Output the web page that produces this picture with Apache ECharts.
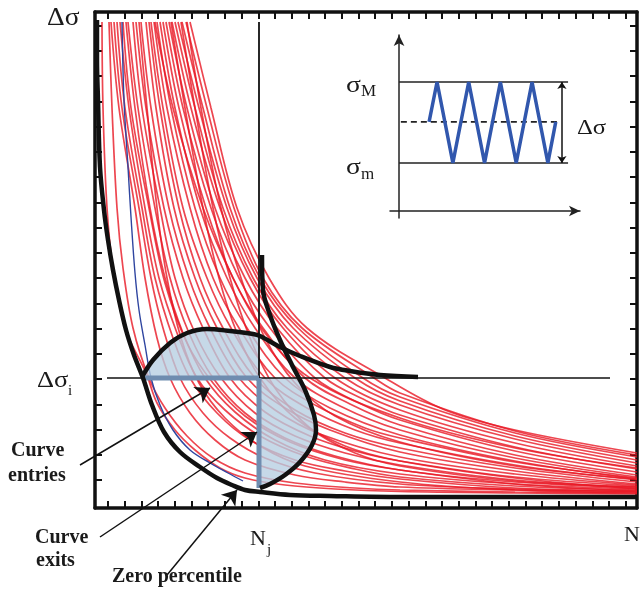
<!DOCTYPE html>
<html>
<head>
<meta charset="utf-8">
<script src="https://cdn.jsdelivr.net/npm/echarts@6.0.0/dist/echarts.min.js"></script>
<style>
  html, body { margin: 0; padding: 0; background: #fff; }
  #chart { width: 641px; height: 592px; }
</style>
</head>
<body>
<div id="chart"></div>
<script>
// schematic S-N field, units: x = N (0..542), y = delta sigma (0..496)

// scatter of S-N curves (red)
const redCurves = [
  [[7,486],[8,400],[12,300],[18,240],[30,180],[51,135],[62,105],[80,78],[100,58],[125,40],[150,30],[190,23],[240,19],[305,16.5],[420,15],[542,14]],
  [[14,486],[17,400],[22,300],[28,240],[38,180],[54,130],[70,100],[92,72],[118,50],[150,35],[200,25],[260,20],[305,18],[420,16],[542,15]],
  [[16,486],[24,400],[40,300],[50,230],[62,170],[75,130],[95,95],[120,68],[150,48],[200,33],[250,26],[305,21],[420,18],[542,16]],
  [[19,486],[27,400],[44,300],[56,230],[68,180],[85,130],[108,95],[135,70],[170,50],[220,35],[305,24],[420,19],[542,16.5]],
  [[22,486],[30,400],[47,300],[60,230],[78,170],[95,130],[122,95],[155,68],[200,48],[250,37],[305,29],[420,20],[542,17]],
  [[25,486],[34,400],[50,300],[64,230],[82,175],[102,130],[130,98],[165,72],[210,52],[260,39],[305,31],[420,22],[542,18]],
  [[31,486],[40,400],[55,300],[70,230],[88,175],[110,130],[140,96],[180,68],[230,48],[305,34],[420,24],[542,19]],
  [[33,486],[43,400],[60,300],[75,230],[94,175],[118,130],[150,95],[190,70],[240,52],[305,38],[420,26],[542,20]],
  [[38,486],[47,400],[65,300],[80,230],[100,175],[126,130],[160,95],[200,72],[250,55],[305,43],[420,28],[542,21]],
  [[41,486],[51,400],[69,300],[88,230],[108,180],[135,130],[170,96],[215,72],[260,57],[305,47],[420,31],[542,22]],
  [[46,486],[56,400],[74,300],[94,230],[115,180],[144,130],[180,98],[225,74],[305,51],[420,34],[542,23]],
  [[51,486],[61,400],[79,300],[100,230],[122,180],[152,130],[190,100],[235,78],[305,56],[420,37],[542,24]],
  [[54,486],[65,400],[84,300],[105,230],[128,180],[160,130],[200,98],[250,75],[305,60],[420,40],[542,26]],
  [[56,486],[68,400],[88,300],[112,230],[136,180],[170,130],[212,100],[260,78],[305,65],[420,43],[542,28]],
  [[59,486],[72,400],[95,300],[118,230],[144,180],[180,130],[222,102],[270,80],[305,70],[420,46],[542,30]],
  [[62,486],[76,400],[100,300],[125,230],[152,180],[190,130],[235,100],[305,73],[420,47],[542,29]],
  [[65,486],[80,400],[105,300],[132,230],[160,180],[200,130],[245,102],[305,78],[420,50],[542,31]],
  [[68,486],[84,400],[111,300],[138,230],[168,180],[210,130],[255,104],[305,83],[420,53],[542,33]],
  [[71,486],[88,400],[116,300],[144,230],[175,180],[220,130],[262,106],[305,88],[420,57],[542,36]],
  [[74,486],[92,400],[120,300],[150,230],[182,180],[230,130],[270,108],[305,93],[420,61],[542,39]],
  [[77,486],[96,400],[125,300],[155,230],[188,180],[240,130],[305,98],[420,65],[542,42]],
  [[80,486],[100,400],[128,300],[158,230],[192,180],[250,130],[305,103],[420,69],[542,45]],
  [[83,486],[104,400],[132,300],[162,230],[198,180],[260,130],[305,107],[420,72],[542,48]],
  [[87,486],[108,400],[135,300],[165,230],[203,180],[268,130],[305,111],[420,75],[542,51]],
  [[91,486],[112,400],[139,300],[168,230],[207,180],[279,130],[305,115],[420,77],[542,53]],
  [[95,486],[116,400],[142,300],[174,230],[212,180],[290,130],[350,98],[420,78],[542,55]],
  [[86,486],[100,400],[118,300],[135,230],[155,170],[180,120],[215,80],[260,55],[305,42],[420,27],[542,21]],
  [[76,486],[90,400],[108,300],[124,230],[142,175],[165,130],[200,90],[250,62],[305,47],[420,30],[542,19]],
  [[92,486],[106,400],[126,300],[146,230],[170,170],[200,125],[240,92],[305,66],[420,42],[542,29]],
  [[60,486],[78,400],[108,300],[138,230],[170,175],[215,130],[305,90],[420,60],[542,40]],
  [[44,486],[52,400],[62,300],[72,230],[86,170],[104,125],[130,90],[165,62],[210,42],[305,26],[420,18],[542,15]],
  [[28,486],[36,400],[54,300],[70,225],[92,165],[118,125],[150,92],[195,66],[250,48],[305,38],[420,24],[542,17]]
];

const blueCurve = [[27,486],[29,408],[33,341],[36,291],[40,235],[44,198],[50,163],[56,130],[65,103],[78,78],[95,58],[115,45],[133,35],[148,27]];

// zero percentile (lower envelope)
const zeroPercentile = [[2,488],[2,448],[3,408],[5,341],[9,298],[13,268],[18,238],[24,208],[31,178],[39,153],[48,130],[57,103],[69,76],[85,56],[105,41],[122,30],[137,23],[150,18],[165,16],[195,13],[235,12],[305,11],[542,11]];

// percentile loop
const upperBoundary = [[47,131],[58,148],[75,165],[92,175],[112,179],[135,177],[158,174],[165,172],[185,161],[205,152],[235,141],[255,137],[285,133],[323,131]];
const rightBoundary = [[167,253],[168,218],[175,193],[185,168],[197,143],[210,118],[219,93],[221,78],[217,63],[205,46],[190,33],[175,24],[165,20]];

const entriesArea = [[47,130],[47,131],[58,148],[75,165],[92,175],[112,179],[135,177],[158,174],[164,172.5],[164,130]];
const exitsArea = [[164,130],[204,130],[210,118],[219,93],[221,78],[217,63],[205,46],[190,33],[175,24],[165,20],[164,20]];

const levelI = 130;   // delta sigma i
const cycleJ = 164;   // N j

// inset (grid 2): units x -5..100, y -4..100
const sigmaMax = 73.3;
const sigmaMin = 27.3;
const sigmaMean = 50.6;
const wave = [[16.6,50.6],[21,73.3],[29.75,27.3],[38.5,73.3],[47.25,27.3],[56,73.3],[64.75,27.3],[73.5,73.3],[82.25,27.3],[86.6,50.6]];

// tick marks on the frame
const xTicks = [];
for (let k = 0; k < 32; k++) xTicks.push(13 + 16.7 * k);
const yTicks = [];
for (let k = 0; k < 19; k++) yTicks.push(28 + 25.25 * k);

const serif = '"Liberation Serif", "DejaVu Serif", serif';

function frameAxis(pos, ticks, max) {
  return {
    gridIndex: 0, type: 'value', min: 0, max: max, position: pos,
    axisLine: { onZero: false, lineStyle: { color: '#111', width: 3.5 } },
    axisTick: { show: true, inside: true, length: 7, customValues: ticks, lineStyle: { color: '#111', width: 2 } },
    axisLabel: { show: false },
    splitLine: { show: false }
  };
}

function insetAxis(min) {
  return {
    gridIndex: 1, type: 'value', min: min, max: 100,
    axisLine: { onZero: true, symbol: ['none', 'arrow'], symbolSize: [8, 11], lineStyle: { color: '#222', width: 1.5 } },
    axisTick: { show: false },
    axisLabel: { show: false },
    splitLine: { show: false }
  };
}

function curve(data, color, width, z, extra) {
  return Object.assign({
    type: 'line', xAxisIndex: 0, yAxisIndex: 0, data: data,
    showSymbol: false, symbol: 'none', smooth: 0.35,
    lineStyle: { color: color, width: width },
    z: z, silent: true, animation: false
  }, extra || {});
}

function area(points, z) {
  return {
    type: 'custom', xAxisIndex: 0, yAxisIndex: 0, data: [[0, 0]], z: z, silent: true,
    renderItem: function (params, api) {
      return {
        type: 'polygon',
        shape: { points: points.map(function (p) { return api.coord(p); }) },
        style: { fill: '#b6cee1', opacity: 0.78 }
      };
    }
  };
}

function arrow(from, to, grid, size, both) {
  return {
    type: 'lines', coordinateSystem: 'cartesian2d', xAxisIndex: grid, yAxisIndex: grid,
    clip: false, silent: true, z: 8,
    symbol: both ? ['arrow', 'arrow'] : ['none', 'arrow'], symbolSize: size,
    lineStyle: { color: '#111', width: 1.5, opacity: 1 },
    data: [{ coords: [from, to] }]
  };
}

function txt(x, y, text, size, bold, sx) {
  return {
    type: 'text', x: x, y: y, scaleX: sx || 1, silent: true, z: 100,
    style: {
      text: text, fill: '#1a1a1a',
      font: (bold ? 'bold ' : '') + size + 'px ' + serif,
      textVerticalAlign: 'middle', verticalAlign: 'middle'
    }
  };
}

const series = [];
redCurves.forEach(function (c) { series.push(curve(c, 'rgba(232,24,36,0.8)', 1.7, 1)); });
series.push(curve(blueCurve, '#2f45a0', 1.4, 2));
series.push(area(entriesArea, 3));
series.push(area(exitsArea, 3));
series.push(curve([[12, levelI], [515, levelI]], '#111', 1.6, 4, { smooth: false }));
series.push(curve([[cycleJ, 486], [cycleJ, levelI]], '#111', 1.8, 4, { smooth: false }));
series.push(curve([[47, levelI], [cycleJ, levelI]], '#6f8db0', 5, 5, { smooth: false }));
series.push(curve([[cycleJ, levelI], [cycleJ, 20]], '#6f8db0', 5, 5, { smooth: false }));
series.push(curve(upperBoundary, '#111', 4.5, 6));
series.push(curve(rightBoundary, '#111', 4.5, 6));
series.push(curve(zeroPercentile, '#111', 4.5, 6));

// annotation arrows
series.push(arrow([-15, 43], [115, 120], 0, 14));
series.push(arrow([5, -29], [162, 76], 0, 14));
series.push(arrow([72, -67], [142, 18], 0, 14));

// inset: loading history
const insetLine = function (data, color, width, type) {
  return {
    type: 'line', xAxisIndex: 2, yAxisIndex: 2, data: data, showSymbol: false, symbol: 'none',
    lineStyle: { color: color, width: width, type: type || 'solid' }, z: 5, silent: true, animation: false
  };
};
series.push(insetLine([[0, sigmaMax], [93.4, sigmaMax]], '#222', 1.5));
series.push(insetLine([[0, sigmaMin], [93.4, sigmaMin]], '#222', 1.5));
series.push(insetLine([[1, sigmaMean], [87.8, sigmaMean]], '#222', 1.8, [6, 4]));
series.push(insetLine(wave, '#3157ad', 3.5));
series.push(arrow([90, sigmaMax], [90, sigmaMin], 2, 7, true));

const chart = echarts.init(document.getElementById('chart'));
chart.setOption({
  animation: false,
  backgroundColor: '#fff',
  grid: [
    { left: 95, top: 12, width: 542, height: 496, outerBoundsMode: 'none', containLabel: false },
    { left: 390, top: 35, width: 190, height: 183, outerBoundsMode: 'none', containLabel: false }
  ],
  xAxis: [frameAxis('bottom', xTicks, 542), frameAxis('top', xTicks, 542), insetAxis(-5)],
  yAxis: [frameAxis('left', yTicks, 496), frameAxis('right', yTicks, 496), insetAxis(-4)],
  series: series,
  graphic: [
    txt(47, 18, 'Δσ', 25, false, 1.1),
    txt(37, 381, 'Δσ', 23, false, 1.15),
    txt(68, 391, 'i', 15),
    txt(250, 539, 'N', 22),
    txt(267, 550, 'j', 15),
    txt(624, 535, 'N', 22),
    txt(11, 451, 'Curve', 20, true),
    txt(8, 476, 'entries', 20, true),
    txt(35, 538, 'Curve', 20, true),
    txt(36, 561, 'exits', 20, true),
    txt(112, 577, 'Zero percentile', 20, true),
    txt(346, 86, 'σ', 24, false, 1.15),
    txt(361, 92, 'M', 17),
    txt(346, 168, 'σ', 24, false, 1.15),
    txt(361, 175, 'm', 17),
    txt(577, 128, 'Δσ', 22, false, 1.12)
  ]
});
</script>
</body>
</html>
